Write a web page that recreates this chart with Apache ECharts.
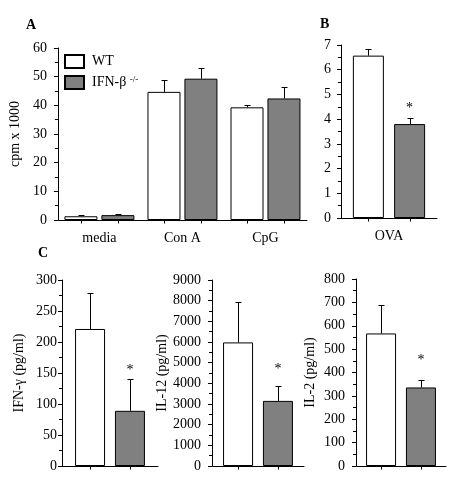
<!DOCTYPE html>
<html><head><meta charset="utf-8">
<script src="https://cdn.jsdelivr.net/npm/echarts@6/dist/echarts.min.js"></script>
<style>html,body{margin:0;padding:0;background:#fff}#c{width:450px;height:480px}</style>
</head><body><div id="c"></div>
<script>
// ---- data ----
const groupNames = ['WT', 'IFN-β -/-'];
const catsA = ['media', 'Con A', 'CpG'];
const wtA = [1.3, 44.7, 39.3];
const wtAErr = [0.3, 4.3, 0.7];
const koA = [1.7, 49.3, 42.4];
const koAErr = [0.3, 3.7, 3.9];
const ticksA = {min: 0, max: 60, interval: 10};

const catsB = ['OVA'];
const wtB = [6.57];
const wtBErr = [0.26];
const koB = [3.80];
const koBErr = [0.24];
const starB = [4.45];
const ticksB = {min: 0, max: 7, interval: 1};

const wtIFN = [221], wtIFNErr = [58], koIFN = [89], koIFNErr = [52], starIFN = [155];
const ticksIFN = {min: 0, max: 300, interval: 50};
const wtIL12 = [5980], wtIL12Err = [1940], koIL12 = [3150], koIL12Err = [710], starIL12 = [4680];
const ticksIL12 = {min: 0, max: 9000, interval: 1000};
const wtIL2 = [567], wtIL2Err = [120], koIL2 = [336], koIL2Err = [30], starIL2 = [450];
const ticksIL2 = {min: 0, max: 800, interval: 100};

const axisNames = ['cpm x 1000', 'IFN-γ (pg/ml)', 'IL-12 (pg/ml)', 'IL-2 (pg/ml)'];

// ---- style ----
const FONT = "'Liberation Serif','Times New Roman',serif";
const GRAY = '#808080';

const grids = [
  {left: 52, top: 48, width: 255, height: 172},
  {left: 341, top: 45, width: 96, height: 173},
  {left: 62, top: 280, width: 96, height: 186},
  {left: 212, top: 280, width: 92, height: 186},
  {left: 356, top: 279, width: 90, height: 187}
];
const barW = [33, 31, 30, 30, 30];
const gapPct = [12, 33, 33, 33, 33];
const labelMargin = [11, 10, 5, 11, 11];
const nameGaps = [33, null, 36, 43, 39];
const yNames = [axisNames[0], '', axisNames[1], axisNames[2], axisNames[3]];
const yTicks = [ticksA, ticksB, ticksIFN, ticksIL12, ticksIL2];
const xCats = [catsA, catsB, [''], [''], ['']];

const panels = [
  {wt: wtA, wtE: wtAErr, ko: koA, koE: koAErr, star: null},
  {wt: wtB, wtE: wtBErr, ko: koB, koE: koBErr, star: starB},
  {wt: wtIFN, wtE: wtIFNErr, ko: koIFN, koE: koIFNErr, star: starIFN},
  {wt: wtIL12, wtE: wtIL12Err, ko: koIL12, koE: koIL12Err, star: starIL12},
  {wt: wtIL2, wtE: wtIL2Err, ko: koIL2, koE: koIL2Err, star: starIL2}
];

function errRender(offset) {
  return function (params, api) {
    const x = api.value(0), v = api.value(1), e = api.value(2);
    const p0 = api.coord([x, v]);
    const p1 = api.coord([x, v + e]);
    const b = api.coord([x, 0]);
    const cx = Math.round(p0[0] + offset) + 0.5;
    const ty = Math.round(p1[1]) + 0.5;
    const by = Math.round(b[1]) + 0.5;
    const st = {stroke: '#000', lineWidth: 1};
    return {type: 'group', children: [
      {type: 'line', shape: {x1: cx, y1: p0[1], x2: cx, y2: ty}, style: st},
      {type: 'line', shape: {x1: cx - 3, y1: ty, x2: cx + 3, y2: ty}, style: st},
      {type: 'line', shape: {x1: cx, y1: by, x2: cx, y2: by + 3}, style: st}
    ]};
  };
}
function starRender(offset) {
  return function (params, api) {
    const p = api.coord([api.value(0), api.value(1)]);
    return {type: 'text', x: p[0] + offset, y: p[1],
      style: {text: '*', font: '14px ' + FONT, fill: '#000', textAlign: 'center', textVerticalAlign: 'middle'}};
  };
}

const xAxis = [], yAxis = [], series = [];
grids.forEach((g, i) => {
  xAxis.push({
    type: 'category', gridIndex: i, data: xCats[i],
    axisLine: {lineStyle: {color: '#000', width: 1}},
    axisTick: {show: false},
    axisLabel: {color: '#000', fontFamily: FONT, fontSize: 14, margin: 11}
  });
  yAxis.push({
    type: 'value', gridIndex: i, min: yTicks[i].min, max: yTicks[i].max, interval: yTicks[i].interval,
    name: yNames[i], nameLocation: 'middle', nameGap: nameGaps[i] || 30, nameRotate: 90,
    nameTextStyle: {color: '#000', fontFamily: FONT, fontSize: 14},
    axisLine: {show: true, lineStyle: {color: '#000', width: 1}},
    axisTick: {show: true, length: 4, lineStyle: {color: '#000'}},
    minorTick: {show: true, splitNumber: 2, length: 3, lineStyle: {color: '#000'}},
    splitLine: {show: false},
    axisLabel: {color: '#000', fontFamily: FONT, fontSize: 14, margin: labelMargin[i], padding: [3, 0, 0, 0],
      formatter: function (v) { return String(v); }}
  });
  const p = panels[i];
  const off = (barW[i] * (1 + gapPct[i] / 100)) / 2;
  series.push({
    type: 'bar', name: groupNames[0], xAxisIndex: i, yAxisIndex: i, data: p.wt,
    barWidth: barW[i], barGap: gapPct[i] + '%',
    itemStyle: {color: '#fff', borderColor: '#000', borderWidth: 1}
  });
  series.push({
    type: 'bar', name: groupNames[1], xAxisIndex: i, yAxisIndex: i, data: p.ko,
    barWidth: barW[i], barGap: gapPct[i] + '%',
    itemStyle: {color: GRAY, borderColor: '#000', borderWidth: 1}
  });
  series.push({
    type: 'custom', name: 'errWT' + i, xAxisIndex: i, yAxisIndex: i, z: 5, clip: false,
    renderItem: errRender(-off), data: p.wt.map((v, k) => [k, v, p.wtE[k]])
  });
  series.push({
    type: 'custom', name: 'errKO' + i, xAxisIndex: i, yAxisIndex: i, z: 5, clip: false,
    renderItem: errRender(off), data: p.ko.map((v, k) => [k, v, p.koE[k]])
  });
  if (p.star) {
    series.push({
      type: 'custom', name: 'star' + i, xAxisIndex: i, yAxisIndex: i, z: 5, clip: false,
      renderItem: starRender(off), data: p.star.map((v, k) => [k, v])
    });
  }
});

const chart = echarts.init(document.getElementById('c'), null, {renderer: 'canvas'});
chart.setOption({
  animation: false,
  backgroundColor: '#fff',
  grid: grids,
  xAxis: xAxis,
  yAxis: yAxis,
  legend: {
    data: groupNames, orient: 'vertical', left: 59, top: 49, itemWidth: 19, itemHeight: 13, itemGap: 6,
    icon: 'rect', selectedMode: false,
    formatter: function (n) { return n === groupNames[1] ? '{a|IFN-β }{s|-/-}' : '{a|' + n + '}'; },
    textStyle: {color: '#000', fontFamily: FONT, fontSize: 14, padding: [0, 0, 0, 3],
      rich: {a: {fontFamily: FONT, fontSize: 14, color: '#000'},
             s: {fontFamily: FONT, fontSize: 9, color: '#000', verticalAlign: 'top', padding: [0, 0, 6, 0]}}}
  },
  graphic: [
    {type: 'text', left: 26, top: 18, style: {text: 'A', font: 'bold 14px ' + FONT, fill: '#000'}},
    {type: 'text', left: 320, top: 17, style: {text: 'B', font: 'bold 14px ' + FONT, fill: '#000'}},
    {type: 'text', left: 38, top: 246, style: {text: 'C', font: 'bold 14px ' + FONT, fill: '#000'}}
  ],
  series: series
});
</script>
</body></html>
